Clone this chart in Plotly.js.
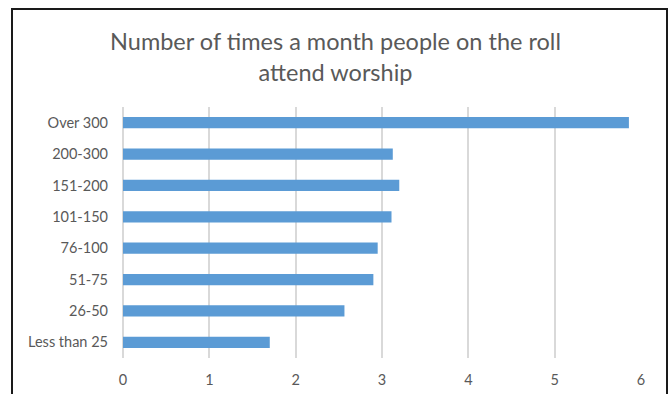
<!DOCTYPE html>
<html>
<head>
<meta charset="utf-8">
<script src="https://cdn.plot.ly/plotly-3.0.1.min.js"></script>
<style>
  html, body { margin: 0; padding: 0; background: #fff; overflow: hidden; }
  #chart { position: absolute; left: 0; top: 0; width: 671px; height: 394px; }
  #frame { position: absolute; left: 11px; top: 8px; width: 653px; height: 400px;
           border: 2px solid #1a1a1a; pointer-events: none; }
</style>
</head>
<body>
<div id="chart"></div>
<div id="frame"></div>
<script>
const categories = ["Less than 25", "26-50", "51-75", "76-100", "101-150", "151-200", "200-300", "Over 300"];
const values = [1.70, 2.565, 2.90, 2.95, 3.11, 3.20, 3.125, 5.86];
const xTicks = [0, 1, 2, 3, 4, 5, 6];
const titleText = "Number of times a month people on the roll<br>attend worship";

const font = "Lato, 'Open Sans', sans-serif";
Plotly.newPlot("chart", [{
  type: "bar",
  orientation: "h",
  y: categories,
  x: values,
  marker: { color: "#5b9bd5" },
  hoverinfo: "x+y"
}], {
  width: 671, height: 394,
  margin: { l: 123, r: 30, t: 107, b: 36 },
  paper_bgcolor: "#ffffff",
  plot_bgcolor: "#ffffff",
  bargap: 0.64,
  showlegend: false,
  title: {
    text: titleText,
    font: { family: font, size: 23.5, color: "#595959" },
    x: 0.5, xanchor: "center",
    y: 0.873, yanchor: "middle"
  },
  xaxis: {
    range: [0, 6],
    tickvals: xTicks,
    showgrid: true, gridcolor: "#d9d9d9", gridwidth: 1.5,
    zeroline: true, zerolinecolor: "#d9d9d9", zerolinewidth: 1.5,
    showline: false,
    ticks: "",
    ticklabelstandoff: 11,
    tickfont: { family: font, size: 14.5, color: "#595959" }
  },
  yaxis: {
    type: "category",
    showgrid: false, zeroline: false, showline: false,
    ticks: "",
    ticklabelstandoff: 14,
    tickfont: { family: font, size: 14.5, color: "#595959" }
  }
}, { displayModeBar: false, staticPlot: false });
</script>
</body>
</html>
